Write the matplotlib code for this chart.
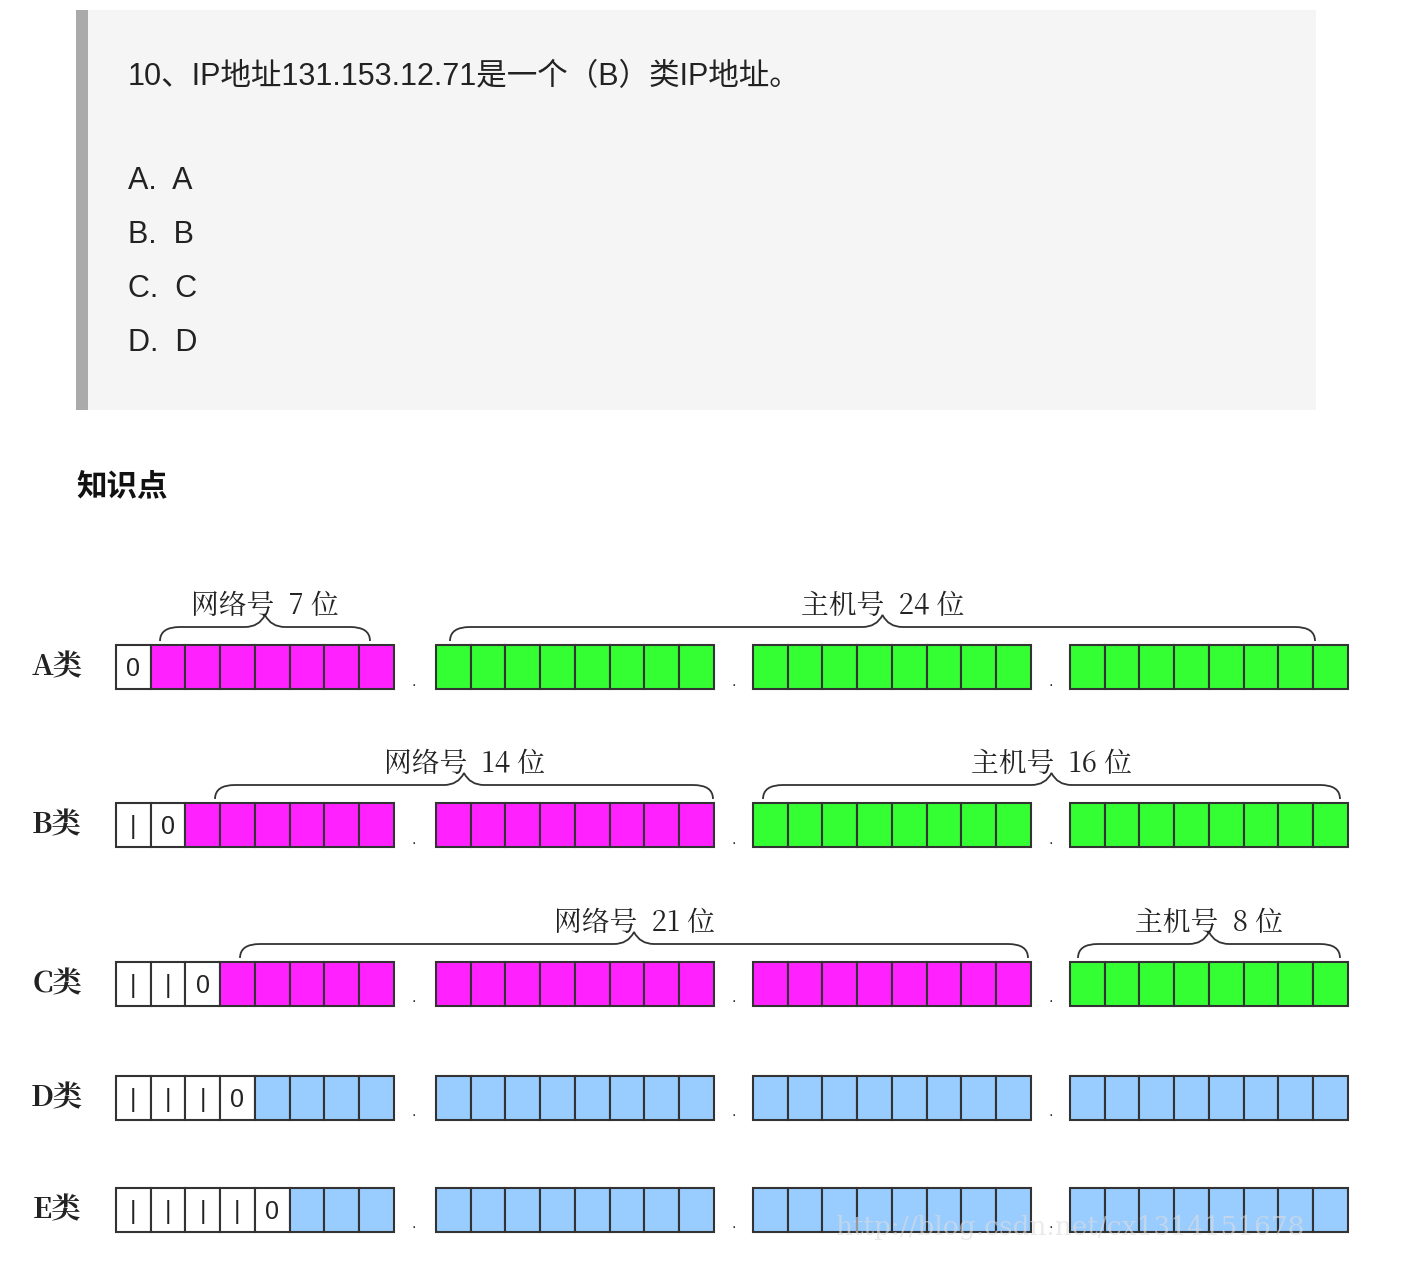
import matplotlib
matplotlib.use("Agg")
import matplotlib.pyplot as plt
from matplotlib.patches import Rectangle, PathPatch
from matplotlib.path import Path

plt.rcParams['font.family'] = ['Liberation Sans', 'Noto Sans CJK SC', 'DejaVu Sans']

question = "10、IP地址131.153.12.71是一个（B）类IP地址。"
options = ["A.  A", "B.  B", "C.  C", "D.  D"]
section = "知识点"

classes = ["A类", "B类", "C类", "D类", "E类"]
prefixes = ["0", "10", "110", "1110", "11110"]
net_bytes = [1, 2, 3, None, None]
brace_labels = [
    [("网络号  7 位", 160, 370), ("主机号  24 位", 450, 1315)],
    [("网络号  14 位", 215, 713), ("主机号  16 位", 763, 1340)],
    [("网络号  21 位", 240, 1028), ("主机号  8 位", 1078, 1340)],
    [], [],
]

MAG, GRN, BLU = "#ff22ff", "#33ff33", "#99ccff"
CJK = ['Noto Serif CJK SC', 'Noto Sans CJK SC', 'DejaVu Serif']

fig = plt.figure(figsize=(14.2, 12.7), dpi=100)
ax = fig.add_axes([0, 0, 1, 1])
ax.set_xlim(0, 1420); ax.set_ylim(1270, 0); ax.axis("off")

ax.add_patch(Rectangle((76, 10), 1240, 400, color="#f5f5f5", lw=0))
ax.add_patch(Rectangle((76, 10), 12, 400, color="#aaaaaa", lw=0))
ax.text(128, 77, question, fontsize=22, va="center", color="#222")
for i, o in enumerate(options):
    ax.text(128, 181 + i * 54, o, fontsize=22, va="center", color="#222")
ax.text(76, 487, section, fontsize=22, va="center", fontweight="bold", color="#111")

row_y = [667, 825, 984, 1098, 1210]
byte_x = [116, 436, 753, 1070]
cw, ch = 34.7, 44

def brace(x1, x2, y):
    m = (x1 + x2) / 2
    verts = [(x1, y + 14), (x1, y), (x1 + 20, y), (m - 20, y), (m - 6, y), (m, y - 12),
             (m + 6, y), (m + 20, y), (x2 - 20, y), (x2, y), (x2, y + 14)]
    codes = [Path.MOVETO, Path.CURVE3, Path.CURVE3, Path.LINETO, Path.CURVE3, Path.CURVE3,
             Path.CURVE3, Path.CURVE3, Path.LINETO, Path.CURVE3, Path.CURVE3]
    ax.add_patch(PathPatch(Path(verts, codes), fill=False, lw=1.3, ec="#333"))

for r, (cls, pre) in enumerate(zip(classes, prefixes)):
    y = row_y[r]
    ax.text(57, y, cls, fontsize=21, fontweight="bold", ha="center", va="center",
            color="#222", family=CJK)
    for b in range(4):
        for c in range(8):
            idx = b * 8 + c
            if idx < len(pre):
                col = "white"
            elif net_bytes[r] is None:
                col = BLU
            else:
                col = MAG if b < net_bytes[r] else GRN
            x = byte_x[b] + c * cw
            ax.add_patch(Rectangle((x, y - ch / 2), cw, ch, fc=col, ec="#333", lw=1.5))
            if idx < len(pre):
                ax.text(x + cw / 2, y + 2, "0" if pre[idx] == "0" else "|", fontsize=18,
                        ha="center", va="center", color="#222")
        if b < 3:
            ax.text(byte_x[b] + 8 * cw + 20, y + 14, ".", fontsize=12, ha="center", va="center", color="#333")
    for lab, x1, x2 in brace_labels[r]:
        by = y - ch / 2 - 18
        brace(x1, x2, by)
        ax.text((x1 + x2) / 2, by - 21, lab, fontsize=20, ha="center", va="center",
                color="#222", family=CJK)

ax.text(1070, 1227, "http://blog.csdn.net/cx1314151678", fontsize=19, ha="center", va="center",
        color="#dddddd", alpha=0.6, family="DejaVu Serif")

fig.savefig("out.png", dpi=100)
